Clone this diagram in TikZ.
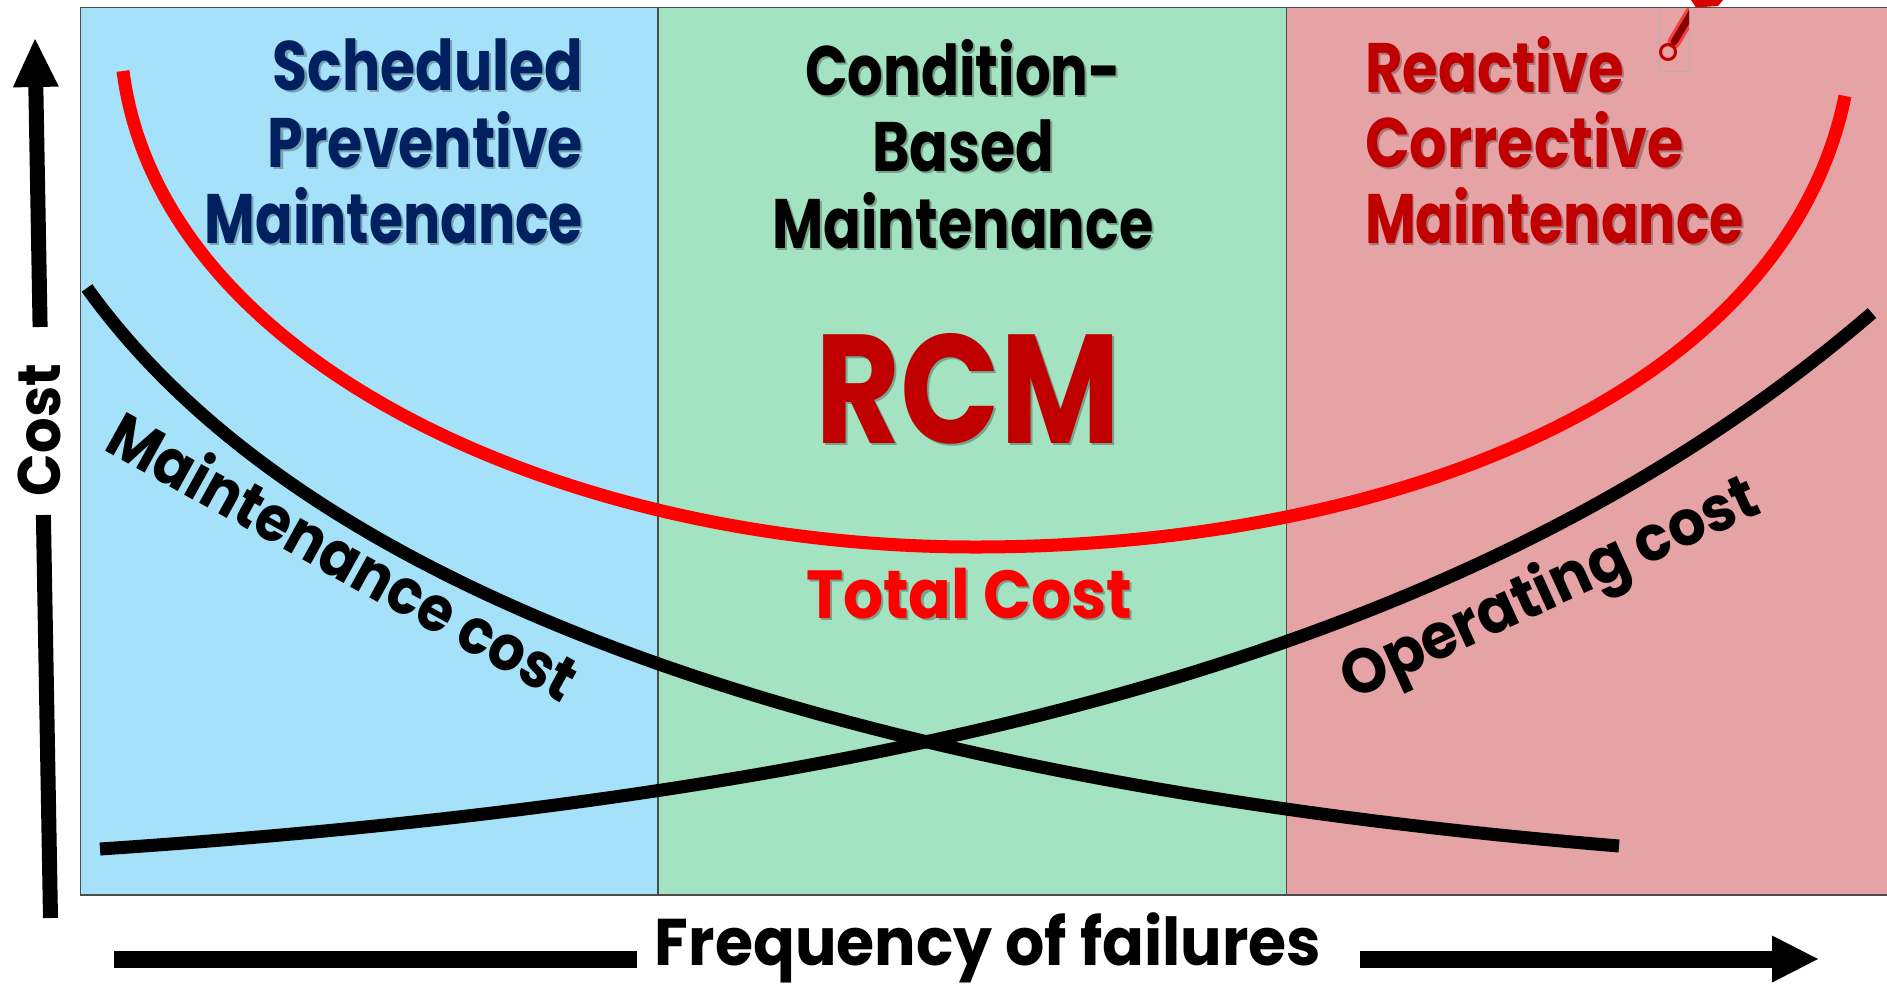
\documentclass[tikz,border=0pt]{standalone}
\usepackage{fontspec}
\setmainfont{Poppins}
\usepackage{graphicx}
\usetikzlibrary{arrows.meta}

\definecolor{panelblue}{HTML}{A5E1F8}
\definecolor{panelgreen}{HTML}{A3E3C2}
\definecolor{panelpink}{HTML}{E6A3A5}
\definecolor{navy}{HTML}{002060}
\definecolor{darkred}{HTML}{C00000}
\definecolor{brightred}{HTML}{FF0000}
\colorlet{blueshade}{panelblue!72!black}
\colorlet{greenshade}{panelgreen!72!black}
\colorlet{pinkshade}{panelpink!72!black}

% stretch a text to a given width, keeping its height
\newcommand\fitw[2]{\resizebox{#1}{\height}{#2}}
% text with a soft offset shadow behind it
\newcommand\shad[2]{\leavevmode\rlap{\kern2.5pt\raisebox{-2.5pt}{\textcolor{#1}{#2}}}#2}
\newcommand\headfont{\fontsize{70pt}{70pt}\selectfont\bfseries}
\newcommand\lblfont{\fontsize{63pt}{63pt}\selectfont\bfseries}

\begin{document}
\begin{tikzpicture}[x=1pt,y=-1pt,
  panelline/.style={draw=black!70, line width=1.3pt},
  curve/.style={line width=13pt, line cap=butt, line join=round},
  axisbar/.style={line width=17pt, line cap=butt, black},
  lbl/.style={inner sep=0pt, outer sep=0pt}]

\useasboundingbox (0,0) rectangle (1887,986);
\fill[white] (0,0) rectangle (1887,986);

% three strategy bands
\fill[panelblue]  (80.5,7.5) rectangle (658,895);
\fill[panelgreen] (658,7.5) rectangle (1286.5,895);
\fill[panelpink]  (1286.5,7.5) rectangle (1887,895);
\draw[panelline] (1887,7.5) -- (80.5,7.5) -- (80.5,895) -- (1887,895);
\draw[panelline] (658,7.5) -- (658,895);
\draw[panelline] (1286.5,7.5) -- (1286.5,895);

% small clipped wrench in the corner
\draw[black!30, line width=0.8pt] (1659,8) -- (1659,71) -- (1689,71) -- (1689,8);
\begin{scope}
  \clip (1655,8) rectangle (1689,75);
  \draw[brightred!60!panelpink, line width=13pt, line cap=round] (1674,42) -- (1692,12);
  \draw[darkred!70!black, line width=7pt, line cap=round] (1674,42) -- (1692,12);
\end{scope}
\draw[darkred, line width=3pt] (1668,52) circle (7.5pt);
\fill[brightred!85!black] (1691,0) -- (1723,0) -- (1718,6) -- (1696,7.5) -- cycle;

% cost curves
\draw[curve, brightred] (123,71) .. controls (160,360) and (560,547) .. (975,547)
  .. controls (1400,547) and (1785,390) .. (1845,96);
\draw[curve, black] (87,288) .. controls (360,669) and (1060,800) .. (1619,846);
\draw[curve, black] (100,849) .. controls (1000,789) and (1516,619) .. (1872,313);

% band headings
\node[lbl, anchor=base east, text=navy] (spm1) at (583,90)
  {\headfont\fitw{310pt}{\shad{blueshade}{Scheduled}}};
\node[lbl, anchor=base east, text=navy] (spm2) at (583,167)
  {\headfont\fitw{315pt}{\shad{blueshade}{Preventive}}};
\node[lbl, anchor=base east, text=navy] (spm3) at (583,243)
  {\headfont\fitw{378pt}{\shad{blueshade}{Maintenance}}};

\node[lbl, anchor=base, text=black] (cbm1) at (963,95)
  {\headfont\fitw{316pt}{\shad{greenshade}{Condition-}}};
\node[lbl, anchor=base, text=black] (cbm2) at (963,171)
  {\headfont\fitw{182pt}{\shad{greenshade}{Based}}};
\node[lbl, anchor=base, text=black] (cbm3) at (963,248)
  {\headfont\fitw{381pt}{\shad{greenshade}{Maintenance}}};

\node[lbl, anchor=base west, text=darkred] (rcm1) at (1365,92)
  {\headfont\fitw{259pt}{\shad{pinkshade}{Reactive}}};
\node[lbl, anchor=base west, text=darkred] (rcm2) at (1365,167)
  {\headfont\fitw{319pt}{\shad{pinkshade}{Corrective}}};
\node[lbl, anchor=base west, text=darkred] (rcm3) at (1365,243)
  {\headfont\fitw{379pt}{\shad{pinkshade}{Maintenance}}};

\node[lbl, anchor=base, text=darkred] (rcm) at (968,443)
  {\fontsize{155pt}{155pt}\selectfont\bfseries\fitw{305pt}{\shad{greenshade}{RCM}}};
\node[lbl, anchor=base, text=brightred] (total) at (969,618)
  {\fontsize{68pt}{68pt}\selectfont\bfseries\fitw{326pt}{\shad{greenshade}{Total Cost}}};

% curve labels
\node[lbl, anchor=base west, rotate=-29] (mcost) at (102,449)
  {\lblfont\fitw{526pt}{Maintenance cost}};
\node[lbl, anchor=base west, rotate=24.5] (ocost) at (1352,700)
  {\lblfont\fitw{452pt}{Operating cost}};

% axes
\node[lbl, anchor=base] (freq) at (988,965)
  {\fontsize{66pt}{66pt}\selectfont\bfseries\fitw{666pt}{Frequency of failures}};
\node[lbl, anchor=base, rotate=90] (cost) at (60,430)
  {\fontsize{60pt}{60pt}\selectfont\bfseries\fitw{132pt}{Cost}};

\coordinate (xa0) at (114,959);
\coordinate (xa1) at (637,959);
\coordinate (xa2) at (1360,959);
\coordinate (xa3) at (1818,959);
\draw[axisbar] (xa0) -- (xa1);
\draw[axisbar, -{Triangle[length=46pt,width=47pt,line width=0pt]}] (xa2) -- (xa3);

\coordinate (ya0) at (50.5,918);
\coordinate (ya1) at (43.4,515);
\coordinate (ya2) at (40.1,327);
\coordinate (ya3) at (35,39);
\draw[axisbar, line width=15pt] (ya0) -- (ya1);
\draw[axisbar, line width=15pt, -{Triangle[length=48pt,width=46pt,line width=0pt]}] (ya2) -- (ya3);
\end{tikzpicture}
\end{document}
